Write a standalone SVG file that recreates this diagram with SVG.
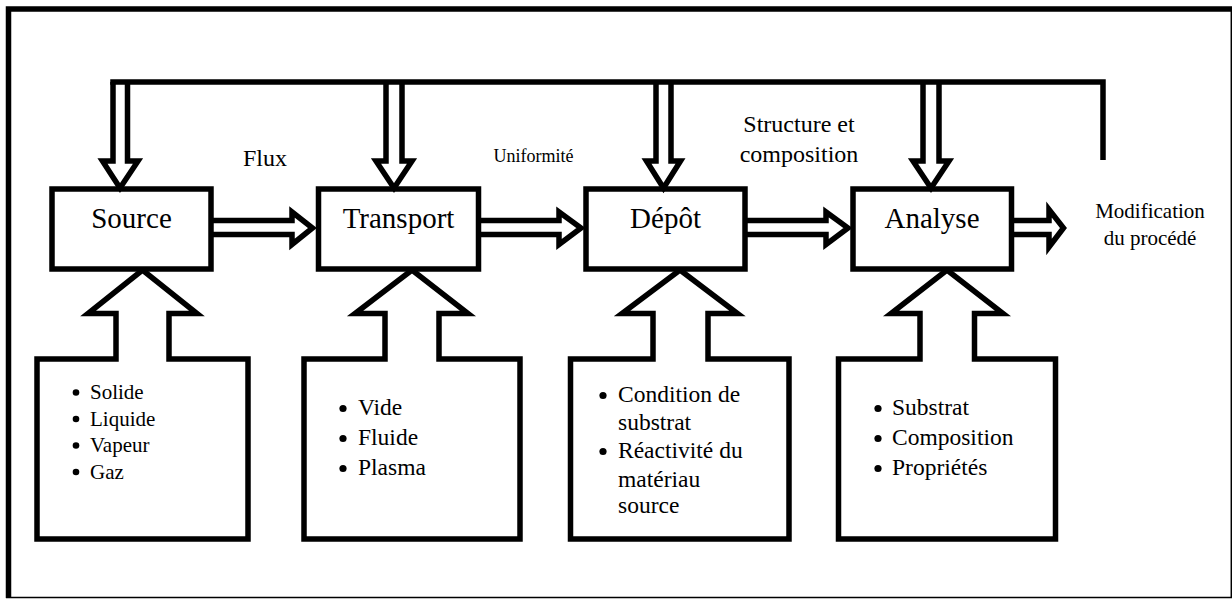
<svg xmlns="http://www.w3.org/2000/svg" width="1232" height="599" viewBox="0 0 1232 599">
<style>
.ln{fill:none;stroke:#000;stroke-width:5.5;stroke-linejoin:miter;stroke-miterlimit:10}
.bx{fill:#fff;stroke:#000;stroke-width:5.5;stroke-linejoin:miter}
text{font-family:"Liberation Serif","Times New Roman",serif;fill:#000}
.t{font-size:29px;text-anchor:middle}
.c{text-anchor:middle}
.d{fill:#000}
</style>
<rect width="1232" height="599" fill="#fff"/>
<g id="frame">
<path d="M8.5,598 V9 H1232" fill="none" stroke="#000" stroke-width="5.5"/>
<line x1="6" y1="597.5" x2="1232" y2="597.5" stroke="#000" stroke-width="1.5"/>
<line x1="1231.3" y1="9" x2="1231.3" y2="598" stroke="#000" stroke-width="1.5"/>
</g>
<g id="input-source">
<path class="bx" d="M37,359 H116 V313.5 H88 L142.5,270 L197,313.5 H169 V359 H248 V539 H37 Z"/>
<g class="d">
<circle cx="76" cy="392.5" r="3.3"/><circle cx="76" cy="419" r="3.3"/><circle cx="76" cy="445.5" r="3.3"/><circle cx="76" cy="472" r="3.3"/>
</g>
<g font-size="21">
<text x="90" y="399">Solide</text>
<text x="90" y="425.5">Liquide</text>
<text x="90" y="452">Vapeur</text>
<text x="90" y="478.5">Gaz</text>
</g>
</g>
<g id="input-transport">
<path class="bx" d="M304,359 H385 V313.5 H355 L412,270 L468,313.5 H439 V359 H520 V539 H304 Z"/>
<g class="d">
<circle cx="343" cy="408.5" r="3.6"/><circle cx="343" cy="438.5" r="3.6"/><circle cx="343" cy="468.5" r="3.6"/>
</g>
<g font-size="23.5">
<text x="358" y="415">Vide</text>
<text x="358" y="445">Fluide</text>
<text x="358" y="475">Plasma</text>
</g>
</g>
<g id="input-depot">
<path class="bx" d="M570.5,359 H653 V313.5 H622 L680,270 L737.5,313.5 H708 V359 H789 V539 H570.5 Z"/>
<g class="d">
<circle cx="603" cy="395.5" r="3.6"/><circle cx="603" cy="451.5" r="3.6"/>
</g>
<g font-size="23.5">
<text x="618" y="402">Condition de</text>
<text x="618" y="430">substrat</text>
<text x="618" y="458">Réactivité du</text>
<text x="618" y="486.5">matériau</text>
<text x="618" y="513">source</text>
</g>
</g>
<g id="input-analyse">
<path class="bx" d="M838.5,359 H920 V313.5 H891 L947,270 L1003,313.5 H974.5 V359 H1055.5 V539 H838.5 Z"/>
<g class="d">
<circle cx="878" cy="408.5" r="3.6"/><circle cx="878" cy="438.5" r="3.6"/><circle cx="878" cy="468.5" r="3.6"/>
</g>
<g font-size="23.5">
<text x="892" y="415">Substrat</text>
<text x="892" y="445">Composition</text>
<text x="892" y="475">Propriétés</text>
</g>
</g>
<g id="source">
<rect class="bx" x="52" y="189" width="159" height="80"/>
<text class="t" x="131.5" y="228">Source</text>
</g>
<g id="transport">
<rect class="bx" x="318.5" y="189" width="160" height="80"/>
<text class="t" x="398.5" y="228">Transport</text>
</g>
<g id="depot">
<rect class="bx" x="586" y="189" width="159" height="80"/>
<text class="t" x="665.5" y="228">Dépôt</text>
</g>
<g id="analyse">
<rect class="bx" x="853" y="189" width="158.5" height="80"/>
<text class="t" x="932" y="228">Analyse</text>
</g>
<g id="connectors">
<path class="ln" d="M113,82 V161 H102.5 L120,188 L138,161 H127.5 V82"/>
<path class="ln" d="M386,82 V161 H376 L394,188 L412,161 H402 V82"/>
<path class="ln" d="M656,82 V161 H646.5 L663.5,188 L680.5,161 H671 V82"/>
<path class="ln" d="M923,82 V161 H913 L931,188 L949,161 H939 V82"/>
<path class="ln" d="M1103,157.3 V82 H113" stroke-linecap="square"/>
<path class="ln" d="M211,220.5 H292 V212 L312.5,228 L292,244.5 V234.5 H211"/>
<path class="ln" d="M478.5,220.5 H559 V212 L581,228 L559,244.5 V234.5 H478.5"/>
<path class="ln" d="M745,220.5 H826 V212 L848,228 L826,244.5 V234.5 H745"/>
<path class="ln" d="M1011.5,220.5 H1049 V209.5 L1063.5,228 L1049,247 V234.5 H1011.5"/>
</g>
<g id="labels">
<text class="c" x="265" y="166" font-size="24">Flux</text>
<text class="c" x="533.5" y="162" font-size="18">Uniformité</text>
<text class="c" x="799" y="132" font-size="24">Structure et</text>
<text class="c" x="799" y="162" font-size="24">composition</text>
<text class="c" x="1150" y="218" font-size="21">Modification</text>
<text class="c" x="1150" y="245" font-size="21">du procédé</text>
</g>
</svg>
